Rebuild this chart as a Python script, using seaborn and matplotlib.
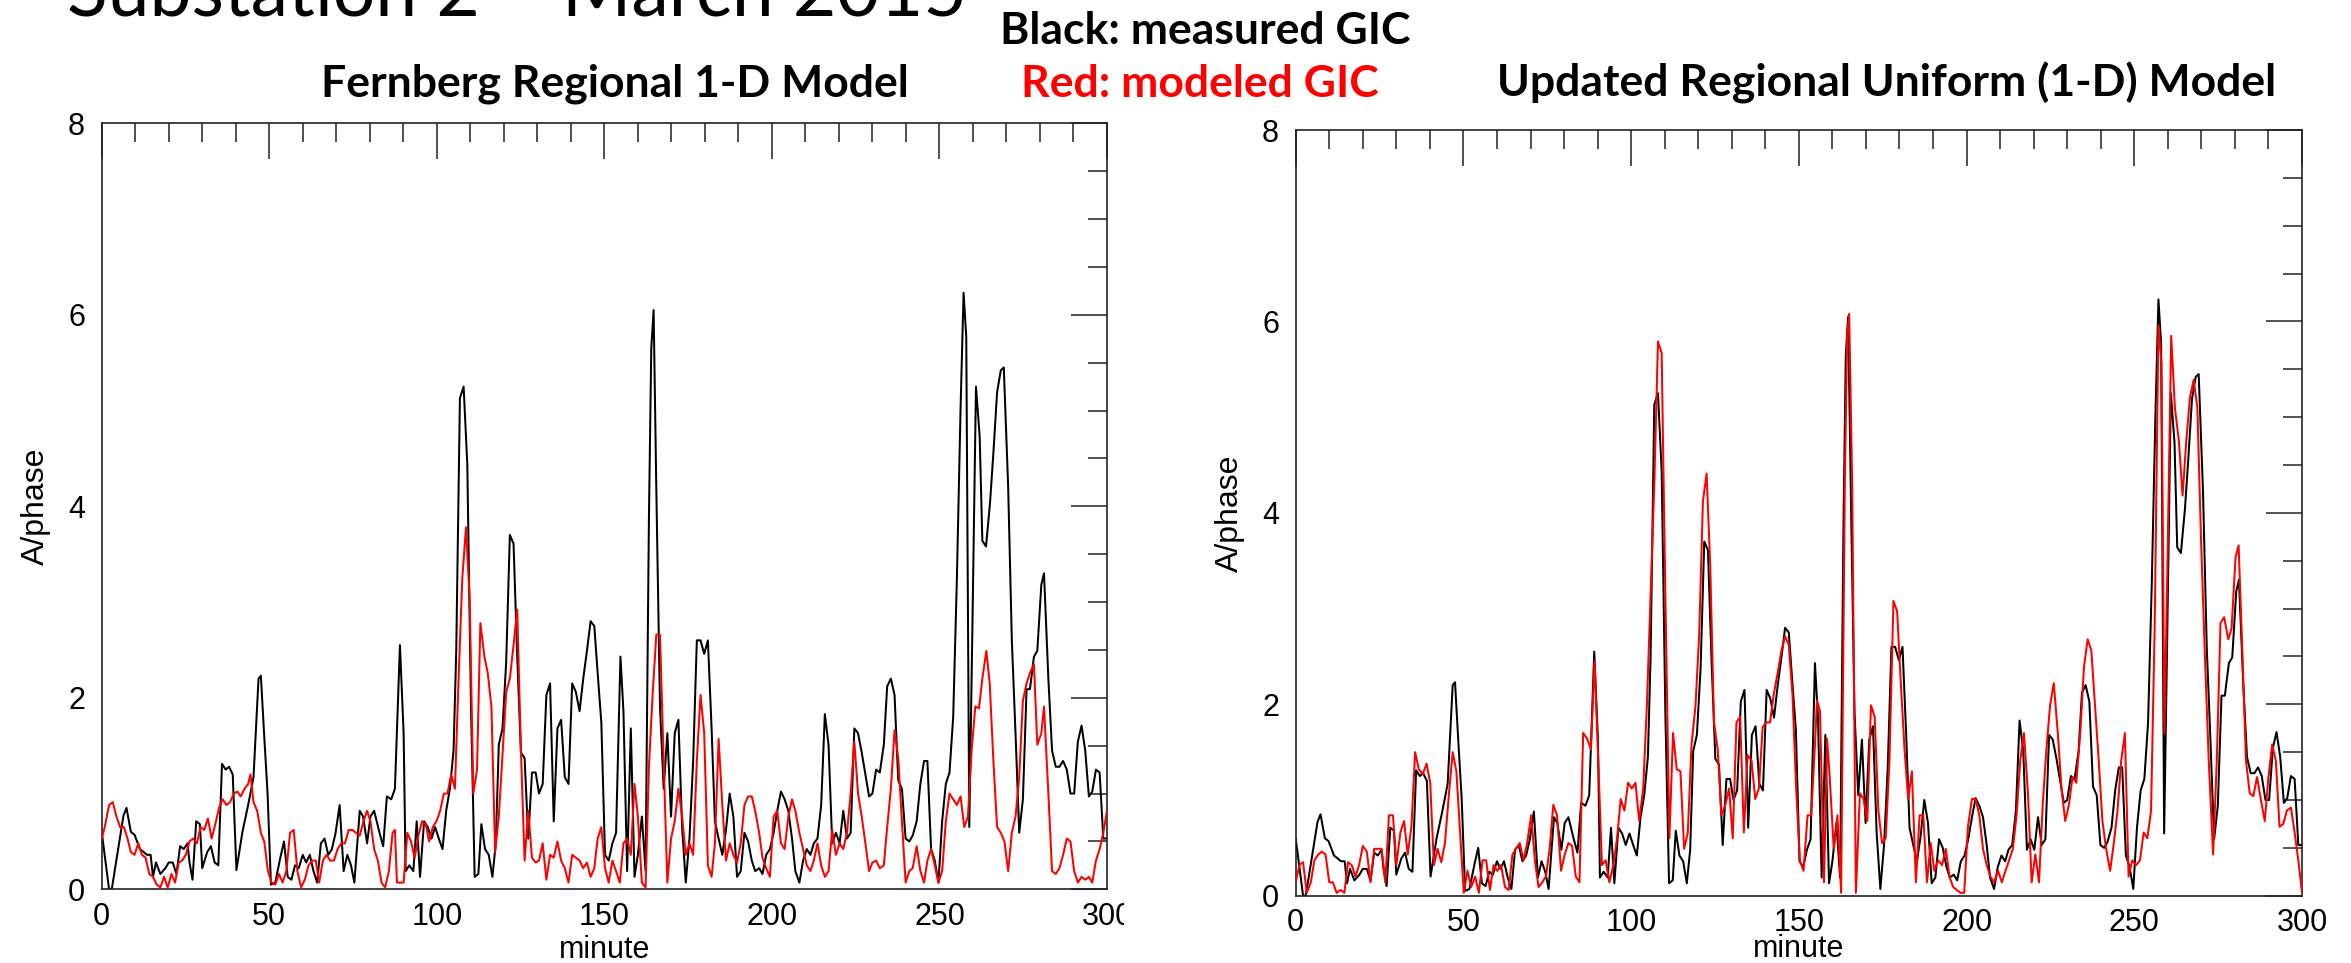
import matplotlib
matplotlib.use("Agg")
import matplotlib.pyplot as plt
import pandas as pd
import seaborn as sns
from matplotlib.ticker import MultipleLocator
from matplotlib.transforms import Bbox, TransformedBbox

# ---------------- data ----------------
minute_measured = [
    0, 2.2, 3, 6.5, 7.4, 8.7, 9.8, 11.4, 12.5, 13.5,
    14.6, 15.3, 16.2, 17.5, 19, 20, 21.2, 22.3, 23.4, 24.5,
    25.6, 26.2, 27.1, 28.2, 29.3, 30, 31.5, 32.6, 33.7, 34.8,
    35.9, 37, 38, 39.1, 40.2, 42, 43.7, 45.3, 46.8, 47.5,
    48.5, 49.5, 50.5, 51.8, 53.3, 54.4, 55.5, 56.6, 57.7, 58.8,
    60, 61, 62.1, 63.2, 64.3, 65.4, 66.5, 67.6, 68.7, 69.8,
    71, 72.2, 73.3, 74.4, 75.4, 77, 78, 79.2, 80.2, 81.3,
    82.9, 84, 85.1, 86.4, 87.5, 89, 90.1, 90.7, 91.8, 93,
    94, 95, 96.2, 97.3, 98.4, 99.5, 100.6, 101.7, 102.8, 103.9,
    105, 105.8, 106.9, 108, 109.1, 110.2, 111.3, 112.4, 113.3, 114.4,
    115.5, 116.6, 117.6, 118.5, 119.6, 120.7, 121.8, 122.9, 124, 125.1,
    126.2, 127.3, 128.4, 129.5, 130.5, 131.6, 132.7, 133.8, 134.9, 136,
    137.1, 138.2, 139.3, 140.4, 141.5, 142.6, 143.7, 144.8, 145.9, 147,
    148, 149.1, 150.2, 151.3, 152.4, 153.5, 154.8, 155.7, 156.8, 157.9,
    159, 160, 161.2, 162.3, 163.3, 164, 164.7, 165.5, 166.6, 167.7,
    168.8, 169.9, 171, 172.1, 173.2, 174.3, 175.4, 176.5, 177.6, 178.7,
    179.8, 180.9, 182, 183, 184.1, 185.2, 186.3, 187.4, 188.5, 189.6,
    190.7, 191.8, 192.9, 194, 195, 196.2, 197.2, 198.3, 199.4, 200.5,
    201.6, 202.7, 203.8, 204.9, 206, 207, 208.2, 209.3, 210.4, 211.5,
    212.5, 213.6, 214.7, 215.8, 216.9, 218, 219.1, 220.2, 221.3, 222.4,
    223.5, 224.6, 225.7, 226.8, 227.9, 229, 230, 231.1, 232.2, 233.4,
    234.4, 235.5, 236.6, 237.7, 238.8, 239.9, 241, 242, 243.2, 244.3,
    245.4, 246.4, 247.5, 248.6, 249.7, 250.8, 251.9, 253, 254.1, 255.2,
    256.3, 257.2, 258, 258.9, 259.8, 260.9, 262, 262.8, 263.9, 265.1,
    266.1, 267.2, 268.3, 269.2, 270.5, 271.6, 272.7, 273.8, 274.9, 276,
    277, 278.2, 279.2, 280.4, 281.2, 282.5, 283.6, 284.7, 285.8, 286.9,
    288, 289.1, 290.2, 291.3, 292.4, 293.5, 294.6, 295.6, 296.7, 297.8,
    298.9, 300,
]
gic_measured = [
    0.6, 0, 0, 0.77, 0.85, 0.6, 0.57, 0.42, 0.39, 0.36,
    0.36, 0.13, 0.28, 0.16, 0.22, 0.28, 0.28, 0.16, 0.45, 0.42,
    0.48, 0.28, 0.1, 0.71, 0.68, 0.22, 0.39, 0.45, 0.28, 0.25,
    1.31, 1.25, 1.28, 1.2, 0.2, 0.6, 0.88, 1.17, 2.2, 2.23,
    1.6, 1.0, 0.05, 0.07, 0.33, 0.5, 0.13, 0.1, 0.25, 0.22,
    0.36, 0.28, 0.36, 0.19, 0.07, 0.48, 0.53, 0.36, 0.42, 0.59,
    0.88, 0.19, 0.36, 0.25, 0.07, 0.82, 0.76, 0.48, 0.76, 0.82,
    0.59, 0.45, 0.97, 0.94, 1.05, 2.55, 1.63, 0.19, 0.25, 0.19,
    0.71, 0.13, 0.71, 0.65, 0.53, 0.65, 0.53, 0.42, 0.82, 1.05,
    1.45, 2.49, 5.13, 5.25, 4.44, 1.91, 0.13, 0.16, 0.68, 0.42,
    0.36, 0.13, 0.48, 1.51, 1.68, 2.37, 3.7, 3.61, 2.43, 1.43,
    1.37, 0.53, 1.22, 1.22, 1.0, 1.1, 2.03, 2.15, 0.71, 1.68,
    1.77, 1.17, 1.1, 2.15, 2.06, 1.86, 2.2, 2.49, 2.8, 2.75,
    2.26, 1.74, 0.36, 0.3, 0.48, 0.59, 2.43, 1.86, 0.19, 1.68,
    0.13, 0.36, 0.76, 0.19, 3.87, 5.65, 6.05, 4.2, 1.91, 1.05,
    1.63, 0.76, 1.63, 1.77, 0.65, 0.07, 0.53, 1.34, 2.6, 2.6,
    2.46, 2.6, 1.68, 0.71, 0.53, 0.36, 0.62, 1.0, 0.76, 0.13,
    0.19, 0.59, 0.5, 0.3, 0.19, 0.22, 0.16, 0.36, 0.42, 0.59,
    0.82, 1.02, 0.94, 0.82, 0.53, 0.19, 0.07, 0.3, 0.42, 0.36,
    0.48, 0.53, 0.88, 1.83, 1.51, 0.48, 0.59, 0.48, 0.82, 0.53,
    0.59, 1.68, 1.63, 1.43, 1.2, 0.97, 1.0, 1.25, 1.22, 1.51,
    2.12, 2.2, 2.03, 1.14, 1.05, 0.53, 0.5, 0.56, 0.71, 1.1,
    1.34, 1.34, 0.42, 0.3, 0.07, 0.71, 1.1, 1.22, 1.8, 3.24,
    5.02, 6.23, 5.77, 0.65, 2.66, 5.25, 4.73, 3.64, 3.58, 4.04,
    4.56, 5.19, 5.42, 5.45, 4.21, 2.6, 1.63, 0.59, 0.94, 2.09,
    2.09, 2.43, 2.49, 3.18, 3.3, 2.2, 1.45, 1.28, 1.28, 1.34,
    1.25, 1.0, 1.0, 1.54, 1.71, 1.45, 0.97, 1.02, 1.25, 1.22,
    0.53, 0.53,
]

minute_fernberg = [
    0, 0.9, 2.2, 3.3, 4.4, 5.5, 6.6, 7.7, 8.7, 9.8,
    10.9, 12, 13.1, 14.2, 15.3, 16.4, 17.5, 18.6, 19.7, 20.8,
    21.9, 23, 24, 25.1, 26.2, 27.3, 28.4, 29.5, 30.6, 31.7,
    32.8, 33.9, 35, 36.1, 37.2, 38.3, 39.4, 40.5, 41.5, 42.6,
    43.7, 44.4, 45.3, 46.4, 47.5, 48.5, 49.6, 50.7, 51.8, 52.9,
    54, 55.1, 56.2, 57.3, 58.4, 59.5, 60.6, 61.7, 62.8, 63.9,
    64.9, 66, 67.1, 68.2, 69.3, 70.4, 71.5, 72.6, 73.7, 74.8,
    75.9, 77, 78.1, 79.2, 80.2, 81.3, 82.4, 83.5, 84.6, 85.7,
    86.8, 87.5, 88.1, 89, 90.1, 91.2, 92.3, 93.4, 94.5, 95.6,
    96.7, 97.7, 98.8, 99.9, 101, 102.1, 103.2, 104.3, 105.4, 106.5,
    107.6, 108.7, 109.8, 110.9, 112, 113, 114.2, 115.2, 116.3, 117.4,
    118.5, 119.6, 120.7, 121.8, 122.9, 124, 125.1, 126.2, 127.3, 128.4,
    129.5, 130.5, 131.6, 132.7, 133.8, 134.9, 136, 137.1, 138.2, 139.3,
    140.4, 141.5, 142.6, 143.7, 144.8, 145.9, 147, 148, 149.1, 150.2,
    151.3, 152.4, 153.5, 154.6, 155.7, 156.8, 157.9, 159, 160, 161.2,
    162.3, 163.3, 164.4, 165.5, 166.6, 167.7, 168.8, 169.9, 171, 172.1,
    173.2, 174.3, 175.4, 176.5, 177.6, 178.7, 179.8, 180.9, 182, 183,
    184.1, 185.2, 186.3, 187.4, 188.5, 189.6, 190.7, 191.8, 192.9, 194,
    195, 196.2, 197.2, 198.3, 199.4, 200.5, 201.6, 202.7, 203.8, 204.9,
    206, 207, 208.2, 209.3, 210.4, 211.5, 212.5, 213.6, 214.7, 215.8,
    216.9, 218, 219.1, 220.2, 221.3, 222.4, 223.5, 224.6, 225.7, 226.8,
    227.9, 229, 230, 231.1, 232.2, 233.4, 234.4, 235.5, 236.6, 237.7,
    238.8, 239.9, 241, 242, 243.2, 244.3, 245.4, 246.4, 247.5, 248.6,
    249.7, 250.8, 251.9, 253, 254.1, 255.2, 256.3, 257.4, 258.5, 259.6,
    260.7, 261.8, 262.8, 264, 265, 266.1, 267.2, 268.3, 269.4, 270.5,
    271.6, 272.7, 273.8, 274.9, 276, 277, 278.2, 279.2, 280.4, 281.2,
    282.5, 283.6, 284.7, 285.8, 286.9, 288, 289.1, 290.2, 291.3, 292.4,
    293.5, 294.6, 295.6, 296.7, 297.8, 298.9, 300,
]
gic_fernberg = [
    0.53, 0.65, 0.88, 0.91, 0.76, 0.65, 0.65, 0.53, 0.39, 0.36,
    0.48, 0.36, 0.33, 0.16, 0.13, 0.05, 0.02, 0.13, 0.02, 0.16,
    0.07, 0.28, 0.3, 0.36, 0.5, 0.53, 0.48, 0.65, 0.62, 0.74,
    0.53, 0.68, 0.85, 0.94, 0.88, 0.91, 1.0, 1.02, 0.97, 1.05,
    1.1, 1.2, 0.91, 0.82, 0.59, 0.5, 0.19, 0.07, 0.05, 0.16,
    0.07, 0.19, 0.59, 0.62, 0.19, 0.02, 0.1, 0.25, 0.3, 0.3,
    0.07, 0.3, 0.36, 0.3, 0.3, 0.42, 0.48, 0.48, 0.62, 0.62,
    0.59, 0.56, 0.71, 0.82, 0.71, 0.42, 0.3, 0.07, 0.02, 0.19,
    0.59, 0.62, 0.07, 0.07, 0.07, 0.59, 0.5, 0.33, 0.56, 0.71,
    0.68, 0.5, 0.65, 0.71, 0.82, 1.0, 1.0, 1.2, 1.05, 2.2,
    3.24, 3.78, 3.04, 1.0, 1.25, 2.78, 2.43, 2.26, 1.91, 0.39,
    0.76, 1.4, 2.06, 2.2, 2.55, 2.92, 1.45, 0.3, 0.82, 0.33,
    0.28, 0.3, 0.48, 0.1, 0.36, 0.33, 0.5, 0.3, 0.22, 0.07,
    0.36, 0.33, 0.3, 0.22, 0.28, 0.13, 0.22, 0.53, 0.65, 0.22,
    0.07, 0.3, 0.19, 0.07, 0.48, 0.53, 0.36, 1.1, 0.76, 0.07,
    0.02, 1.28, 2.03, 2.66, 2.66, 1.34, 0.07, 0.53, 0.71, 1.05,
    0.76, 0.36, 0.48, 0.36, 1.34, 2.03, 1.63, 0.25, 0.13, 0.48,
    1.57, 0.88, 0.3, 0.48, 0.36, 0.28, 0.48, 0.88, 0.97, 0.97,
    0.82, 0.59, 0.33, 0.22, 0.13, 0.76, 0.82, 0.48, 0.42, 0.76,
    0.94, 0.82, 0.59, 0.42, 0.25, 0.19, 0.3, 0.48, 0.25, 0.13,
    0.19, 0.62, 0.36, 0.48, 0.42, 0.59, 1.0, 1.54, 1.0, 0.76,
    0.48, 0.19, 0.28, 0.3, 0.22, 0.25, 0.65, 1.05, 1.66, 1.37,
    0.71, 0.07, 0.19, 0.22, 0.45, 0.19, 0.07, 0.3, 0.42, 0.25,
    0.07, 0.19, 0.71, 1.0, 0.94, 0.88, 0.97, 0.65, 0.76, 1.45,
    1.91, 1.89, 2.2, 2.49, 2.15, 1.34, 0.65, 0.59, 0.5, 0.19,
    0.59, 0.76, 1.17, 1.97, 2.15, 2.26, 2.35, 1.51, 1.63, 1.91,
    1.0, 0.19, 0.16, 0.22, 0.36, 0.53, 0.5, 0.19, 0.07, 0.13,
    0.1, 0.13, 0.07, 0.3, 0.42, 0.59, 0.82,
]

minute_updated = [
    0, 1.1, 2.2, 3.3, 4.5, 5.6, 6.7, 7.8, 8.9, 10,
    11.1, 12.2, 13.4, 14.5, 15.6, 16.7, 17.8, 18.9, 20, 21.2,
    22.3, 23.4, 24.5, 25.6, 26.7, 27.8, 29, 30, 31.2, 32.3,
    33.4, 34.5, 35.6, 36.7, 37.9, 39, 40.1, 41.2, 42.3, 43.4,
    44.5, 45.7, 46.8, 47.9, 49, 50.1, 51.2, 52.3, 53.5, 54.6,
    55.7, 56.8, 57.9, 59, 60.1, 61.2, 62.4, 63.5, 64.6, 65.7,
    66.8, 67.9, 69, 70.2, 71.3, 72.4, 73.5, 74.6, 75.7, 76.8,
    77.9, 79.1, 80.2, 81.3, 82.4, 83.5, 84.6, 85.7, 86.9, 88,
    89.1, 90.2, 91.3, 92.4, 93.5, 94.7, 95.8, 96.9, 98, 99.1,
    100.2, 101.3, 102.4, 103.6, 104.7, 105.8, 106.9, 108, 109.1, 110.2,
    111.4, 112.5, 113.6, 114.7, 115.8, 116.9, 118, 119.2, 120.3, 121.4,
    122.5, 123.6, 124.7, 125.8, 126.9, 128.1, 129.2, 130.3, 131.4, 132.5,
    133.6, 134.7, 135.9, 137, 138.1, 139.2, 140.3, 141.4, 142.5, 143.7,
    144.8, 145.9, 147, 148.1, 149.2, 150.3, 151.4, 152.6, 153.7, 154.8,
    155.4, 156.3, 157.5, 158.4, 159.2, 160.4, 161.5, 162.6, 163.7, 164.4,
    165, 165.9, 167, 168.2, 169.3, 170.4, 171.5, 172.6, 173.7, 174.8,
    175.9, 177, 178.2, 179.3, 180.4, 181.5, 182.6, 183.7, 184.9, 186,
    187.1, 188.2, 189.3, 190.4, 191.5, 192.7, 193.8, 194.9, 196, 197.1,
    198.2, 199.3, 200.4, 201.6, 202.7, 203.8, 204.9, 206, 207.1, 208.2,
    209.4, 210.5, 211.6, 212.7, 213.8, 214.9, 216, 217.1, 218.3, 219.4,
    220.5, 221.6, 222.7, 223.8, 224.9, 226, 227.2, 228.3, 229.4, 230.5,
    231.6, 232.7, 233.9, 235, 236.1, 237.2, 238.3, 239.4, 240.5, 241.6,
    242.8, 243.9, 245, 246.1, 247.2, 248.3, 249.4, 250.6, 251.7, 252.8,
    253.9, 255, 256.1, 257.2, 258.1, 259, 259.9, 261, 262.1, 263.3,
    264.4, 265.5, 266.6, 267.7, 268.8, 269.9, 271, 272.2, 273.5, 274.6,
    275.7, 276.8, 278, 279, 280.2, 281.1, 282.2, 283.3, 284.4, 285.5,
    286.6, 287.7, 288.9, 290, 291.1, 292.2, 293.3, 294.4, 295.5, 296.7,
    297.8, 298.9, 300,
]
gic_updated = [
    0.14, 0.32, 0.35, 0.03, 0.14, 0.37, 0.43, 0.46, 0.43, 0.14,
    0.14, 0.03, 0.06, 0.03, 0.35, 0.32, 0.2, 0.32, 0.52, 0.46,
    0.14, 0.49, 0.49, 0.49, 0.14, 0.84, 0.84, 0.32, 0.66, 0.78,
    0.43, 0.72, 1.5, 1.32, 1.27, 1.38, 1.18, 0.32, 0.49, 0.35,
    0.55, 1.07, 1.5, 1.3, 0.66, 0.03, 0.26, 0.09, 0.2, 0.03,
    0.37, 0.37, 0.06, 0.32, 0.26, 0.32, 0.09, 0.06, 0.43, 0.49,
    0.55, 0.37, 0.55, 0.84, 0.37, 0.09, 0.14, 0.2, 0.49, 0.95,
    0.84, 0.26, 0.43, 0.55, 0.52, 0.2, 0.14, 1.7, 1.64, 1.53,
    2.45, 1.41, 0.32, 0.37, 0.14, 0.32, 0.6, 1.01, 0.89, 1.18,
    1.12, 1.18, 0.78, 1.12, 1.99, 3.14, 4.29, 5.79, 5.67, 3.14,
    0.6, 1.7, 1.32, 1.3, 0.49, 0.66, 1.58, 1.99, 2.74, 4.12,
    4.41, 3.43, 1.81, 1.53, 0.84, 0.95, 1.12, 0.6, 1.81, 1.87,
    0.66, 1.47, 1.41, 1.01, 1.12, 1.76, 1.81, 1.81, 2.1, 2.33,
    2.56, 2.71, 2.62, 2.1, 1.12, 0.37, 0.26, 0.84, 0.84, 1.58,
    2.04, 1.93, 0.14, 1.64, 1.24, 0.49, 0.84, 0.03, 4.29, 5.85,
    6.08, 4.29, 0.03, 1.07, 1.01, 0.78, 1.99, 1.87, 0.89, 0.55,
    0.6, 1.41, 3.08, 2.97, 2.22, 1.53, 1.01, 1.3, 0.14, 0.84,
    0.84, 0.14, 0.55, 0.26, 0.37, 0.32, 0.49, 0.2, 0.09, 0.06,
    0.03, 0.03, 0.72, 1.01, 1.01, 0.84, 0.49, 0.32, 0.2, 0.14,
    0.26, 0.14, 0.26, 0.37, 0.49, 0.84, 1.41, 1.7, 1.07, 0.14,
    0.43, 0.14, 0.95, 1.53, 1.99, 2.22, 1.7, 1.12, 0.78, 0.95,
    1.24, 1.18, 1.7, 2.39, 2.68, 2.56, 1.99, 1.41, 0.78, 0.49,
    0.26, 0.55, 0.89, 1.41, 1.7, 0.2, 0.37, 0.32, 0.37, 0.66,
    0.6, 0.89, 2.85, 5.96, 5.56, 1.7, 3.49, 5.85, 5.1, 4.75,
    4.18, 4.75, 5.21, 5.39, 5.1, 3.72, 2.56, 1.41, 0.43, 1.41,
    2.85, 2.91, 2.68, 2.79, 3.54, 3.66, 2.56, 1.41, 1.07, 1.04,
    1.24, 1.01, 0.78, 1.24, 1.58, 1.41, 0.72, 0.75, 0.89, 0.92,
    0.66, 0.37, 0.03,
]

x_ticks = [0, 50, 100, 150, 200, 250, 300]
y_ticks = [0, 2, 4, 6, 8]
panel_titles = ["Fernberg Regional 1-D Model", "Updated Regional Uniform (1-D) Model"]
legend_black = "Black: measured GIC"
legend_red = "Red: modeled GIC"
slide_title = "Substation 2 \u2013 March 2015"
x_label = "minute"
y_label = "A/phase"

# ---------------- figure ----------------
sns.set_style("white")
plt.rcParams["font.family"] = ["Liberation Sans", "DejaVu Sans"]

W, H = 2351, 963
fig = plt.figure(figsize=(W / 100, H / 100), dpi=100)
fig.patch.set_facecolor("white")

ax1 = fig.add_axes([101.7 / W, 1 - 889.3 / H, (1107 - 101.7) / W, (889.3 - 123.3) / H])
ax2 = fig.add_axes([1295.7 / W, 1 - 895.7 / H, (2302 - 1295.7) / W, (895.7 - 130) / H])

meas = pd.DataFrame({"minute": minute_measured, "gic": gic_measured})
fern = pd.DataFrame({"minute": minute_fernberg, "gic": gic_fernberg})
upd = pd.DataFrame({"minute": minute_updated, "gic": gic_updated})

LW = 1.45
for ax, model in ((ax1, fern), (ax2, upd)):
    sns.lineplot(data=meas, x="minute", y="gic", ax=ax, color="black", lw=LW,
                 estimator=None, sort=False, zorder=2)
    sns.lineplot(data=model, x="minute", y="gic", ax=ax, color="#ff0000", lw=LW,
                 estimator=None, sort=False, zorder=3)

for ax, xpad in ((ax1, 2.5), (ax2, -3.0)):
    ax.set_xlim(0, 300)
    ax.set_ylim(0, 8)
    ax.set_xticks(x_ticks)
    ax.set_yticks(y_ticks)
    ax.xaxis.set_minor_locator(MultipleLocator(10))
    ax.yaxis.set_minor_locator(MultipleLocator(0.5))
    ax.tick_params(which="both", direction="in", top=True, right=True,
                   width=1.1, color="#222222", labelcolor="black")
    ax.tick_params(which="major", length=26, labelsize=22)
    ax.tick_params(which="minor", length=13.5)
    ax.tick_params(axis="x", which="major", pad=9)
    ax.tick_params(axis="y", which="major", pad=12)
    for sp in ax.spines.values():
        sp.set_linewidth(1.2)
        sp.set_color("#222222")
    ax.set_xlabel(x_label, fontsize=22, color="black", labelpad=xpad)
    ax.set_ylabel(y_label, fontsize=23, color="black", labelpad=12)
    ax.set_facecolor("white")

# the last tick label of the left panel is cut by the right picture
clip = TransformedBbox(Bbox.from_extents(0, 0, 1124 / W, 1), fig.transFigure)
for lab in ax1.get_xticklabels():
    lab.set_clip_box(clip)
    lab.set_clip_on(True)

title_font = ["Lato", "DejaVu Sans"]
fig.text(67 / W, 1 - 16 / H, slide_title, fontsize=54, family=title_font,
         ha="left", va="baseline", color="black")
fig.text(1205 / W, 1 - 44 / H, legend_black, fontsize=32, fontweight="bold",
         family=title_font, ha="center", va="baseline", color="black")
fig.text(1200 / W, 1 - 97 / H, legend_red, fontsize=32, fontweight="bold",
         family=title_font, ha="center", va="baseline", color="#ff0000")
fig.text(615 / W, 1 - 97 / H, panel_titles[0], fontsize=32, fontweight="bold",
         family=title_font, ha="center", va="baseline", color="black")
fig.text(1887 / W, 1 - 97 / H, panel_titles[1], fontsize=32, fontweight="bold",
         family=title_font, ha="center", va="baseline", color="black")

fig.savefig("out.png", dpi=100, facecolor="white")
